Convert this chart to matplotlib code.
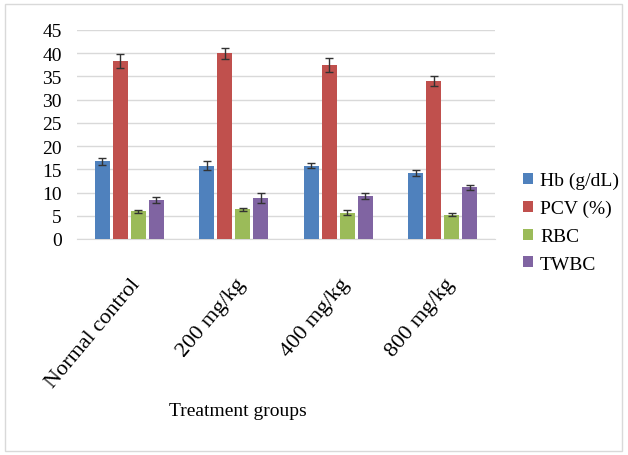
import numpy as np
import matplotlib.pyplot as plt
import matplotlib.transforms as mtransforms
from matplotlib.patches import Rectangle

# データ
groups = ["Normal control", "200 mg/kg", "400 mg/kg", "800 mg/kg"]
series = ["Hb (g/dL)", "PCV (%)", "RBC", "TWBC"]
hb = [16.7, 15.8, 15.8, 14.2]
pcv = [38.4, 40.0, 37.4, 34.0]
rbc = [6.0, 6.4, 5.7, 5.2]
twbc = [8.4, 8.8, 9.3, 11.1]
hb_err = [0.7, 0.9, 0.6, 0.6]
pcv_err = [1.5, 1.2, 1.5, 1.1]
rbc_err = [0.3, 0.3, 0.5, 0.3]
twbc_err = [0.6, 1.0, 0.7, 0.6]
colors = ["#4F81BD", "#C0504D", "#9BBB59", "#8064A2"]

plt.rcParams["font.family"] = ["Liberation Serif", "DejaVu Serif"]

fig = plt.figure(figsize=(6.28, 4.56), dpi=100)
ax = fig.add_axes([77 / 628, 1 - 240 / 456, 418 / 628, 209 / 456])

# 外枠
fig.patches.append(Rectangle((5 / 628, 4 / 456), 617 / 628, 447 / 456,
                             transform=fig.transFigure, fill=False,
                             edgecolor="#d9d9d9", linewidth=1.0))

x = np.arange(len(groups))
w = 0.145
step = 0.172
vals = [hb, pcv, rbc, twbc]
errs = [hb_err, pcv_err, rbc_err, twbc_err]
for i, (v, e) in enumerate(zip(vals, errs)):
    ax.bar(x + (i - 1.5) * step, v, width=w, color=colors[i], label=series[i],
           yerr=e, error_kw=dict(ecolor="#333333", elinewidth=1.0, capsize=3, capthick=1.0),
           zorder=3)

ax.set_xlim(-0.5, len(groups) - 0.5)
ax.set_ylim(0, 45)
ax.set_yticks(np.arange(0, 46, 5))
ax.yaxis.grid(True, color="#d9d9d9", linewidth=1.0, zorder=0)
ax.set_axisbelow(True)
for s in ["top", "right", "left"]:
    ax.spines[s].set_visible(False)
ax.spines["bottom"].set_color("#d9d9d9")
ax.tick_params(axis="both", length=0)
ax.tick_params(axis="y", pad=11, labelsize=14)
ax.set_xticks(x)
ax.set_xticklabels(groups, rotation=50, ha="right", va="center",
                   rotation_mode="anchor", fontsize=16)
ax.tick_params(axis="x", pad=30)
offset = mtransforms.ScaledTranslation(8 / 100, 0, fig.dpi_scale_trans)
for lab in ax.get_xticklabels():
    lab.set_transform(lab.get_transform() + offset)

fig.text(238 / 628, 1 - 412 / 456, "Treatment groups", fontsize=14,
         ha="center", va="center")

ax.legend(loc="center left", bbox_to_anchor=(1.026, 0.079), frameon=False,
          fontsize=14, handlelength=0.5, handleheight=0.5, handletextpad=0.35,
          labelspacing=0.55)

fig.savefig("out.png", dpi=100)
